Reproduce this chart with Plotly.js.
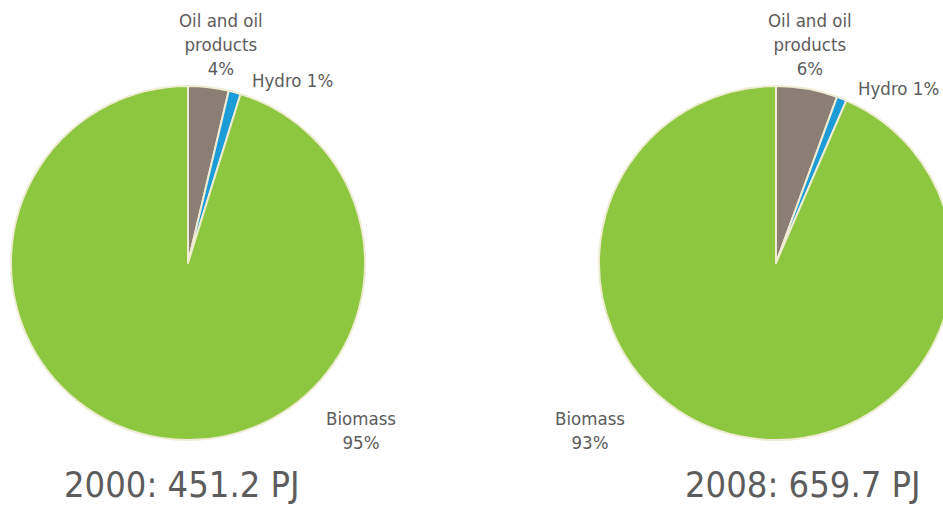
<!DOCTYPE html>
<html>
<head>
<meta charset="utf-8">
<script src="https://cdn.plot.ly/plotly-3.0.1.min.js"></script>
<style>
html,body{margin:0;padding:0;overflow:hidden;background:#fff;}
#chart{width:960px;height:510px;}
</style>
</head>
<body>
<div id="chart"></div>
<script>
// Data
var categories = ["Oil and oil products", "Hydro", "Biomass"];
var values2000 = [3.7, 1.1, 95.2];
var values2008 = [5.6, 0.9, 93.5];
var pctLabels2000 = ["4%", "1%", "95%"];
var pctLabels2008 = ["6%", "1%", "93%"];
var titles = ["2000: 451.2 PJ", "2008: 659.7 PJ"];
var colors = ["#8b7e75", "#1b9bd7", "#8dc63f"];

var W = 960, H = 510;
function px(x){return x / W;}
function py(y){return 1 - y / H;}

var R = 177, cy = 263;
function dom(cx){
  return {x:[px(cx - R), px(cx + R)], y:[py(cy + R), py(cy - R)]};
}

var common = {
  type: "pie",
  labels: categories,
  sort: false,
  direction: "clockwise",
  rotation: 0,
  textinfo: "none",
  hoverinfo: "label+percent",
  marker: {colors: colors, line: {color: "#eeecd2", width: 2}},
  showlegend: false
};

var traces = [
  Object.assign({}, common, {values: values2000, domain: dom(188)}),
  Object.assign({}, common, {values: values2008, domain: dom(776)})
];

var fam = "DejaVu Sans Condensed, Liberation Sans Narrow, sans-serif";
var font = {family: fam, size: 18.5, color: "#5c5c5c"};
var bigFont = {family: fam, size: 36, color: "#5c5c5c"};

function ann(text, x, y, f, xanchor){
  return {text: text, x: px(x), y: py(y), xref: "paper", yref: "paper",
          showarrow: false, font: f || font, xanchor: xanchor || "center", yanchor: "middle", align: "center"};
}

var annotations = [
  ann("Oil and oil<br>products<br>" + pctLabels2000[0], 221, 44),
  ann(categories[1] + " " + pctLabels2000[1], 292, 80),
  ann(categories[2] + "<br>" + pctLabels2000[2], 361, 430),
  ann(titles[0], 182, 484, bigFont),
  ann("Oil and oil<br>products<br>" + pctLabels2008[0], 810, 44),
  ann(categories[1] + " " + pctLabels2008[1], 898, 88),
  ann(categories[2] + "<br>" + pctLabels2008[2], 590, 430),
  ann(titles[1], 803, 484, bigFont)
];

var layout = {
  width: W, height: H,
  margin: {l: 0, r: 0, t: 0, b: 0},
  paper_bgcolor: "#ffffff",
  annotations: annotations
};

Plotly.newPlot("chart", traces, layout, {displayModeBar: false, staticPlot: true});
</script>
</body>
</html>
